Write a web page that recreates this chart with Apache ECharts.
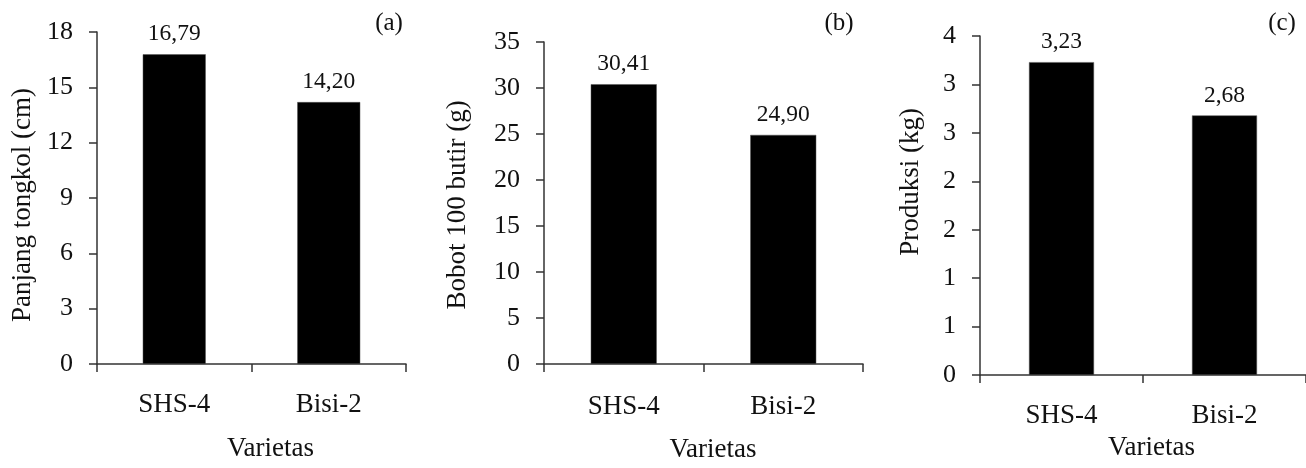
<!DOCTYPE html>
<html>
<head>
<meta charset="utf-8">
<script src="https://cdn.jsdelivr.net/npm/echarts@6/dist/echarts.min.js"></script>
<style>
    html, body { margin: 0; padding: 0; background: #fff; }
    #chart { width: 1306px; height: 468px; }
</style>
</head>
<body>
<div id="chart"></div>
<script>
// data
const categories = ['SHS-4', 'Bisi-2'];
const panjangTongkol = [16.79, 14.20];   // (a) cm
const bobot100Butir = [30.41, 24.90];    // (b) g
const produksi = [3.23, 2.68];           // (c) kg
const panelLabels = ['(a)', '(b)', '(c)'];
const yNames = ['Panjang tongkol (cm)', 'Bobot 100 butir (g)', 'Produksi (kg)'];
const xName = 'Varietas';
// y scales: [max, interval]
const yScaleA = [18, 3];
const yScaleB = [35, 5];
const yScaleC = [3.5, 0.5];

const font = '"Liberation Serif", "Times New Roman", serif';
const lineColor = '#333';
const textColor = '#111';

const chart = echarts.init(document.getElementById('chart'));

const grids = [
    { left: 97, right: 900, top: 32, bottom: 104 },
    { left: 544, right: 443, top: 42, bottom: 96 },
    { left: 980, right: -4, top: 36, bottom: 93 }
];

const xLayout = [
    { margin: 27, nameGap: 71, shift: 38 },
    { margin: 29, nameGap: 72, shift: 19 },
    { margin: 27, nameGap: 59, shift: 17 }
];

const yLayout = [
    { scale: yScaleA, nameGap: 61, pad: [0, 14, 0, 0] },
    { scale: yScaleB, nameGap: 73, pad: [0, 4, 0, 0] },
    { scale: yScaleC, nameGap: 56, pad: [0, 0, 0, 47] }
];

const barWidths = [63, 66, 65];
const seriesData = [panjangTongkol, bobot100Butir, produksi];

const xAxes = xLayout.map((l, i) => ({
    type: 'category',
    gridIndex: i,
    data: categories,
    name: xName,
    nameLocation: 'middle',
    nameGap: l.nameGap,
    nameTextStyle: { fontFamily: font, fontSize: 27, color: textColor, padding: [0, 0, 0, l.shift] },
    axisLine: { lineStyle: { color: lineColor, width: 1.5 } },
    axisTick: { show: true, length: 8, lineStyle: { color: lineColor, width: 1.5 } },
    axisLabel: { fontFamily: font, fontSize: 27, color: textColor, margin: l.margin },
    splitLine: { show: false }
}));

const yAxes = yLayout.map((l, i) => ({
    type: 'value',
    gridIndex: i,
    min: 0,
    max: l.scale[0],
    interval: l.scale[1],
    name: yNames[i],
    nameLocation: 'middle',
    nameGap: l.nameGap,
    nameTextStyle: { fontFamily: font, fontSize: 27, color: textColor, padding: l.pad },
    axisLine: { show: true, lineStyle: { color: lineColor, width: 1.5 } },
    axisTick: { show: true, length: 8, lineStyle: { color: lineColor, width: 1.5 } },
    axisLabel: {
        fontFamily: font, fontSize: 26, color: textColor, margin: 24,
        // the original rounds half-steps to whole numbers (0,1,1,2,2,3,3,4)
        formatter: v => i === 2 ? String(Math.round(v)) : String(v)
    },
    splitLine: { show: false }
}));

const series = seriesData.map((d, i) => ({
    type: 'bar',
    xAxisIndex: i,
    yAxisIndex: i,
    data: d,
    barWidth: barWidths[i],
    itemStyle: { color: '#000', borderColor: '#555', borderWidth: 0.5 },
    label: {
        show: true,
        position: 'top',
        distance: 8,
        fontFamily: font,
        fontSize: 23.5,
        color: textColor,
        formatter: p => p.value.toFixed(2).replace('.', ',')
    }
}));

const panelX = [389, 839, 1282];
const graphic = panelLabels.map((t, i) => ({
    type: 'text',
    x: panelX[i],
    y: 23,
    style: {
        text: t,
        fontFamily: font,
        fontSize: 25,
        fill: textColor,
        align: 'center',
        verticalAlign: 'middle'
    }
}));

chart.setOption({
    animation: false,
    grid: grids,
    xAxis: xAxes,
    yAxis: yAxes,
    series: series,
    graphic: graphic
});
</script>
</body>
</html>
